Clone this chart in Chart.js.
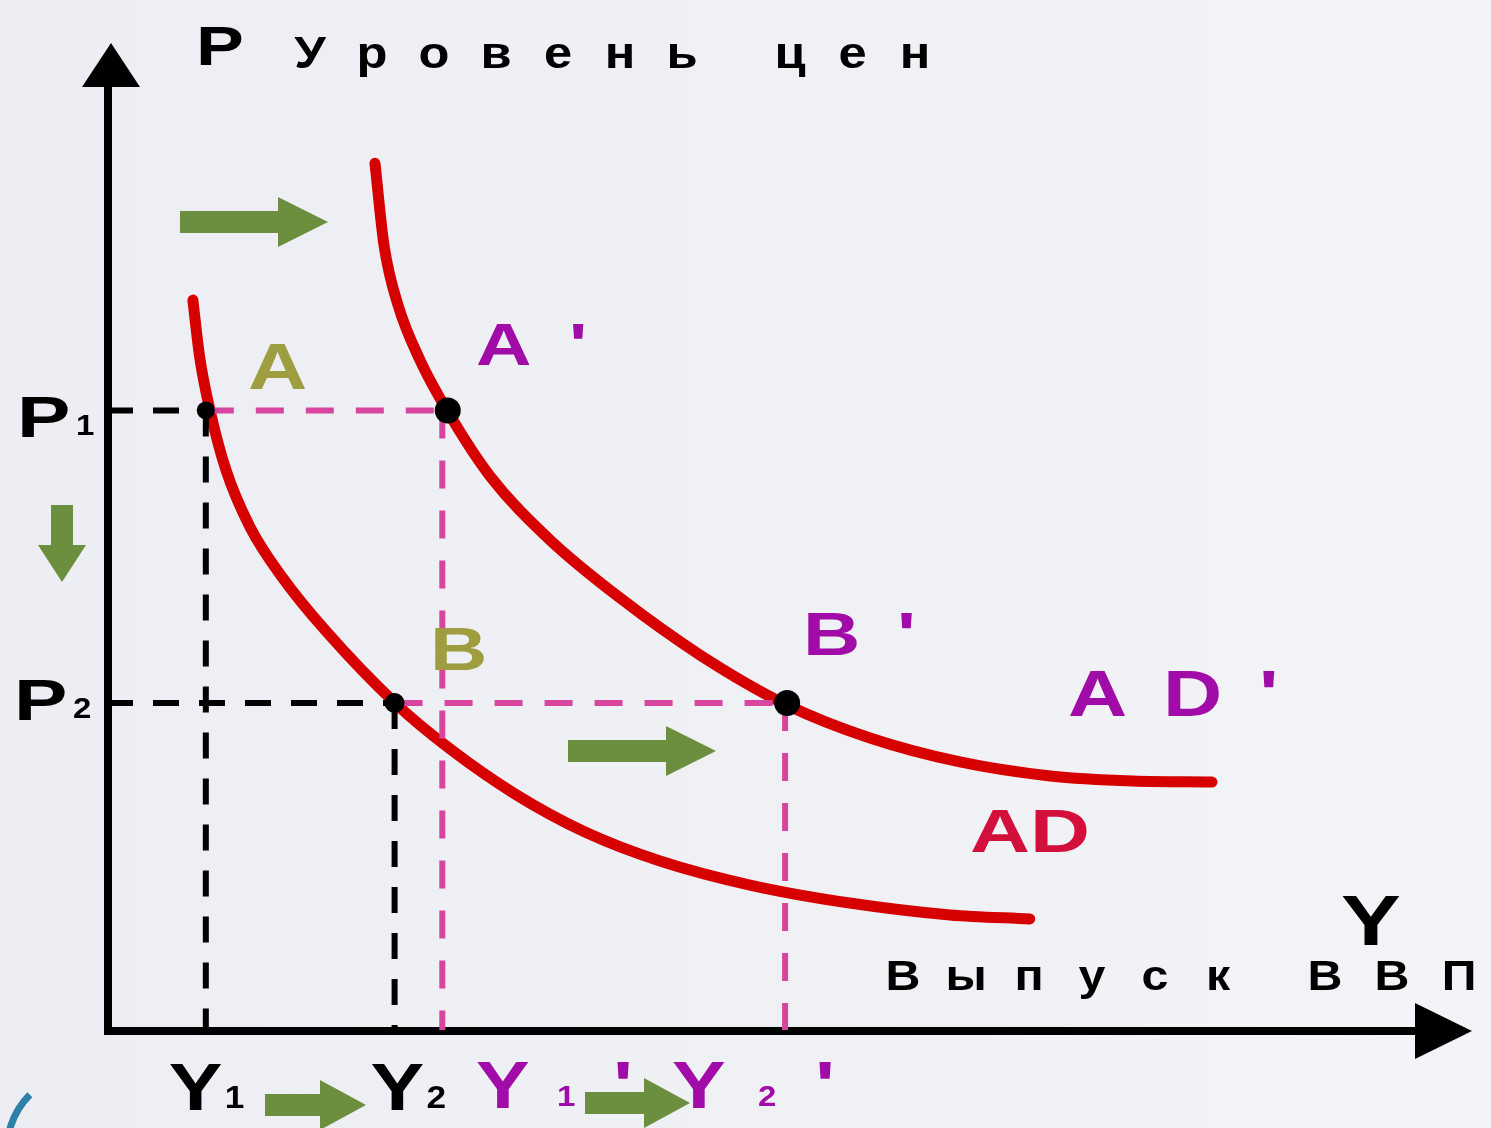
<!DOCTYPE html>
<html>
<head>
<meta charset="utf-8">
<script src="https://cdn.jsdelivr.net/npm/chart.js@4"></script>
<style>
  html, body { margin: 0; padding: 0; background: #eef0f5; }
  canvas { display: block; }
</style>
</head>
<body>
<canvas id="myChart" width="1491" height="1128"></canvas>
<script>
// уровни цен и выпуска
const P1 = 62.9;
const P2 = 33.2;
const Y1 = 7.25;
const Y2 = 21.1;
const Y1s = 24.6;   // Y1'
const Y2s = 49.75;  // Y2'
const A2x = 25.0;   // точка A'
const B2x = 49.9;   // точка B'

// кривая AD
const adX = [6.3, 6.8, 7.56, 8.73, 10.49, 12.84, 15.99, 21.13, 25.17, 29.93, 35.07, 40.57, 47.17, 54.5, 61.85, 67.7];
const adY = [74.1, 68.3, 62.9, 56.85, 51.07, 45.99, 40.61, 33.2, 28.53, 23.96, 20.1, 17.16, 14.72, 12.89, 11.68, 11.27];

// кривая AD'
const ad2X = [19.66, 20.32, 21.35, 22.96, 25.02, 28.1, 32.5, 37.64, 43.51, 49.89, 55.98, 62.58, 69.19, 75.28, 81.07];
const ad2Y = [88.0, 79.7, 73.6, 68.02, 62.74, 56.24, 49.75, 43.86, 38.07, 32.99, 29.64, 27.21, 25.79, 25.28, 25.18];

const pts = (xs, ys) => xs.map((x, i) => ({ x: x, y: ys[i] }));
const seg = (x0, y0, x1, y1) => [{ x: x0, y: y0 }, { x: x1, y: y1 }];

const BLACK_DASH = [26, 20];
const PINK_DASH = [28, 22];
const PINK = '#d8459f';
const OLIVE = '#9e9d3f';
const PURPLE = '#a10ca8';
const GREEN = '#6b8f3e';
const FONT = '"Liberation Sans", Arial, sans-serif';

function dashed(data, color, dash) {
  return {
    data: data, showLine: true, borderColor: color, borderWidth: 6,
    borderDash: dash, pointRadius: 0, order: 1, clip: false
  };
}

function curve(data) {
  return {
    data: data, showLine: true, borderColor: '#d60000', borderWidth: 11,
    cubicInterpolationMode: 'monotone', borderCapStyle: 'round',
    pointRadius: 0, order: 2, clip: false
  };
}

const data = {
  datasets: [
    // точки равновесия
    {
      data: [{ x: A2x, y: P1 }, { x: B2x, y: P2 }, { x: Y1, y: P1 }, { x: Y2, y: P2 }],
      backgroundColor: '#000', borderWidth: 0,
      pointRadius: [13, 13, 9, 10], order: 0, clip: false
    },
    dashed(seg(0, P1, Y1, P1), '#000', BLACK_DASH),
    dashed(seg(Y1, P1, Y1, 0), '#000', BLACK_DASH),
    dashed(seg(0, P2, Y2, P2), '#000', BLACK_DASH),
    dashed(seg(Y2, P2, Y2, 0), '#000', BLACK_DASH),
    dashed(seg(Y1, P1, A2x, P1), PINK, PINK_DASH),
    dashed(seg(Y1s, P1, Y1s, 0), PINK, PINK_DASH),
    dashed(seg(Y2, P2, B2x, P2), PINK, PINK_DASH),
    dashed(seg(Y2s, P2, Y2s, 0), PINK, PINK_DASH),
    // AD и AD'
    curve(pts(adX, adY)),
    curve(pts(ad2X, ad2Y))
  ]
};

function txt(ctx, s, x, y, size, color, sx) {
  ctx.save();
  ctx.translate(x, y);
  ctx.scale(sx || 1.28, 1);
  ctx.font = 'bold ' + size + 'px ' + FONT;
  ctx.fillStyle = color;
  ctx.textAlign = 'left';
  ctx.textBaseline = 'alphabetic';
  ctx.fillText(s, 0, 0);
  ctx.restore();
}

function spaced(ctx, s, cx0, step, y, size, color) {
  ctx.save();
  ctx.font = 'bold ' + size + 'px ' + FONT;
  ctx.fillStyle = color;
  ctx.textAlign = 'center';
  ctx.textBaseline = 'alphabetic';
  for (let i = 0; i < s.length; i++) {
    ctx.save();
    ctx.translate(cx0 + i * step, y);
    ctx.scale(1.15, 1);
    ctx.fillText(s[i], 0, 0);
    ctx.restore();
  }
  ctx.restore();
}

function arrowRight(ctx, x0, x1, y, half, headLen, headHalf) {
  ctx.beginPath();
  ctx.moveTo(x0, y - half);
  ctx.lineTo(x1 - headLen, y - half);
  ctx.lineTo(x1 - headLen, y - headHalf);
  ctx.lineTo(x1, y);
  ctx.lineTo(x1 - headLen, y + headHalf);
  ctx.lineTo(x1 - headLen, y + half);
  ctx.lineTo(x0, y + half);
  ctx.closePath();
  ctx.fillStyle = GREEN;
  ctx.fill();
}

function arrowDown(ctx, x, y0, y1, half, headLen, headHalf) {
  ctx.beginPath();
  ctx.moveTo(x - half, y0);
  ctx.lineTo(x - half, y1 - headLen);
  ctx.lineTo(x - headHalf, y1 - headLen);
  ctx.lineTo(x, y1);
  ctx.lineTo(x + headHalf, y1 - headLen);
  ctx.lineTo(x + half, y1 - headLen);
  ctx.lineTo(x + half, y0);
  ctx.closePath();
  ctx.fillStyle = GREEN;
  ctx.fill();
}

const diagram = {
  id: 'diagram',
  beforeDraw(chart) {
    const ctx = chart.ctx;
    ctx.save();
    const g = ctx.createLinearGradient(0, 0, chart.width, 0);
    g.addColorStop(0, '#eceef3');
    g.addColorStop(0.6, '#f0f1f5');
    g.addColorStop(1, '#f3f4f7');
    ctx.fillStyle = g;
    ctx.fillRect(0, 0, chart.width, chart.height);
    // декоративная дуга внизу слева
    ctx.beginPath();
    ctx.arc(85, 1150, 78, Math.PI * 0.95, Math.PI * 1.25);
    ctx.strokeStyle = '#2d80a8';
    ctx.lineWidth = 7;
    ctx.stroke();
    ctx.restore();
  },
  beforeDatasetsDraw(chart) {
    const ctx = chart.ctx;
    const a = chart.chartArea;
    const x0 = chart.scales.x.getPixelForValue(0);
    const y0 = chart.scales.y.getPixelForValue(0);
    ctx.save();
    ctx.strokeStyle = '#000';
    ctx.fillStyle = '#000';
    ctx.lineWidth = 8;
    ctx.beginPath();
    ctx.moveTo(x0 + 1, y0 + 4);
    ctx.lineTo(x0 + 1, a.top + 40);
    ctx.moveTo(x0 - 3, y0 + 1);
    ctx.lineTo(a.right - 50, y0 + 1);
    ctx.stroke();
    // стрелки осей
    ctx.beginPath();
    ctx.moveTo(x0 + 4, a.top - 2);
    ctx.lineTo(x0 + 33, a.top + 42);
    ctx.lineTo(x0 - 25, a.top + 42);
    ctx.closePath();
    ctx.fill();
    ctx.beginPath();
    ctx.moveTo(a.right + 2, y0 + 1);
    ctx.lineTo(a.right - 55, y0 - 27);
    ctx.lineTo(a.right - 55, y0 + 29);
    ctx.closePath();
    ctx.fill();
    ctx.restore();
  },
  afterDraw(chart) {
    const ctx = chart.ctx;
    const sx = chart.scales.x, sy = chart.scales.y;
    const yP1 = sy.getPixelForValue(P1), yP2 = sy.getPixelForValue(P2);

    // подписи осей
    txt(ctx, 'P', 196, 65, 56, '#000');
    spaced(ctx, 'Уровень', 310, 62, 68, 44, '#000');
    spaced(ctx, 'цен', 790, 62.5, 68, 44, '#000');
    txt(ctx, 'Y', 1341, 945, 70, '#000');
    spaced(ctx, 'Выпуск', 903, 63, 990, 42, '#000');
    spaced(ctx, 'ВВП', 1325, 67, 990, 42, '#000');

    // P1, P2
    txt(ctx, 'P', 17, yP1 + 27, 58, '#000', 1.38);
    txt(ctx, '1', 76, yP1 + 25, 30, '#000', 1.1);
    txt(ctx, 'P', 14, yP2 + 17, 58, '#000', 1.38);
    txt(ctx, '2', 73, yP2 + 15, 30, '#000', 1.1);

    // точки
    txt(ctx, 'A', 248, 389, 64, OLIVE);
    txt(ctx, 'A', 476, 365, 60, PURPLE);
    txt(ctx, "'", 569, 365, 60, PURPLE);
    txt(ctx, 'B', 430, 670, 62, OLIVE);
    txt(ctx, 'B', 803, 655, 62, PURPLE);
    txt(ctx, "'", 897, 655, 62, PURPLE);
    txt(ctx, 'A', 1068, 716, 64, PURPLE);
    txt(ctx, 'D', 1163, 716, 64, PURPLE);
    txt(ctx, "'", 1259, 716, 64, PURPLE);
    txt(ctx, 'AD', 970, 852, 62, '#d3103c', 1.34);

    // Y1, Y2, Y1', Y2'
    const yb = 1110;
    txt(ctx, 'Y', sx.getPixelForValue(Y1) - 37, yb, 66, '#000', 1.22);
    txt(ctx, '1', sx.getPixelForValue(Y1) + 19, yb - 2, 32, '#000', 1.1);
    txt(ctx, 'Y', sx.getPixelForValue(Y2) - 24, yb, 66, '#000', 1.22);
    txt(ctx, '2', sx.getPixelForValue(Y2) + 32, yb - 2, 32, '#000', 1.1);
    txt(ctx, 'Y', 476, yb - 2, 66, PURPLE, 1.22);
    txt(ctx, '1', 557, yb - 4, 30, PURPLE, 1.1);
    txt(ctx, "'", 613, yb - 2, 66, PURPLE);
    txt(ctx, 'Y', 672, yb - 2, 66, PURPLE, 1.22);
    txt(ctx, '2', 758, yb - 4, 30, PURPLE, 1.1);
    txt(ctx, "'", 815, yb - 2, 66, PURPLE);

    // зелёные стрелки
    arrowRight(ctx, 180, 328, 222, 11, 50, 25);
    arrowRight(ctx, 568, 716, 751, 11, 50, 25);
    arrowDown(ctx, 62, 505, 582, 11, 37, 24);
    arrowRight(ctx, 265, 366, 1105, 11, 46, 25);
    arrowRight(ctx, 585, 690, 1103, 11, 46, 25);
  }
};

const config = {
  type: 'scatter',
  data,
  options: {
    responsive: false,
    animation: false,
    events: [],
    layout: { padding: { left: 107, right: 21, top: 45, bottom: 98 } },
    scales: {
      x: { type: 'linear', min: 0, max: 100, display: false },
      y: { type: 'linear', min: 0, max: 100, display: false }
    },
    plugins: {
      legend: { display: false },
      tooltip: { enabled: false }
    }
  },
  plugins: [diagram]
};

var myChart = new Chart(document.getElementById('myChart'), config);
</script>
</body>
</html>
